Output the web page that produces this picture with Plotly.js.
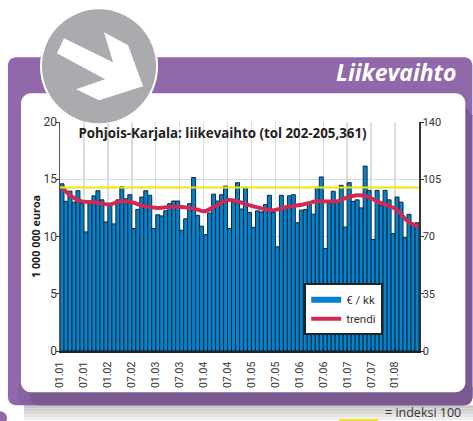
<!DOCTYPE html>
<html><head><meta charset="utf-8">
<script src="https://cdn.plot.ly/plotly-3.0.1.min.js"></script>
<style>html,body{margin:0;padding:0;background:#fff;overflow:hidden}#c{width:473px;height:421px}</style>
</head><body><div id="c"></div>
<script>
const tickLabels = ["01.01","07.01","01.02","07.02","01.03","07.03","01.04","07.04","01.05","07.05","01.06","07.06","01.07","07.07","01.08"];
const salesValues = [14.6,13.07,13.96,13.0,14.0,12.87,10.4,12.9,13.55,14.0,13.2,11.27,12.8,11.1,13.2,14.35,13.3,13.65,10.7,12.37,13.45,14.0,13.6,10.7,11.9,11.8,12.24,12.87,13.1,13.1,10.55,11.55,12.87,15.15,11.85,10.9,10.17,12.05,13.7,13.1,13.65,14.4,10.7,13.0,14.7,12.4,14.3,12.1,10.8,12.24,12.15,12.8,13.6,12.1,9.1,13.6,12.5,13.55,13.65,11.2,12.3,12.35,12.95,11.95,14.3,15.2,8.95,12.9,13.95,13.0,14.47,10.83,14.7,13.07,13.2,12.5,16.15,14.03,9.75,14.03,12.7,14.03,13.2,10.25,13.45,13.0,9.9,11.94,10.98,11.2];
const trendMonths = [0,2,5,8,12,15,18,20,24,28,32,34,35.7,38.2,41.5,44.7,46.2,49.5,52.9,56.3,60.5,63.9,68.9,72.2,76,79.7,83.9,86.4,89.3];
const trendValues = [14.33,13.6,13.07,13.0,12.8,13.1,12.95,12.7,12.5,12.6,12.5,12.35,12.2,12.6,13.2,13.0,12.8,12.5,12.3,12.58,12.8,13.07,13.07,13.5,13.55,12.96,12.35,11.42,10.83];
const indexLevel = [100,100];
const indexSpan = [0,90];

const W=473,H=421,L=60,R=418.7,T=121.7,B=350.7;
const fx=p=>(p-L)/(R-L), fy=p=>(B-p)/(B-T);
const pt=(x,y)=>fx(x).toFixed(5)+","+fy(y).toFixed(5);
const poly=(a)=>"M"+a.map(p=>pt(p[0],p[1])).join("L")+"Z";
function round(x0,y0,x1,y1,r){
  const k=r*0.45;
  return "M"+pt(x0+r,y0)+"L"+pt(x1-r,y0)+"C"+pt(x1-k,y0)+" "+pt(x1,y0+k)+" "+pt(x1,y0+r)+
   "L"+pt(x1,y1-r)+"C"+pt(x1,y1-k)+" "+pt(x1-k,y1)+" "+pt(x1-r,y1)+
   "L"+pt(x0+r,y1)+"C"+pt(x0+k,y1)+" "+pt(x0,y1-k)+" "+pt(x0,y1-r)+
   "L"+pt(x0,y0+r)+"C"+pt(x0,y0+k)+" "+pt(x0+k,y0)+" "+pt(x0+r,y0)+"Z";
}
const fill=(path,c)=>({type:"path",xref:"paper",yref:"paper",layer:"below",path,fillcolor:c,line:{width:0}});
const circ=(cx,cy,r,c)=>({type:"circle",xref:"paper",yref:"paper",layer:"below",x0:fx(cx-r),x1:fx(cx+r),y0:fy(cy+r),y1:fy(cy-r),fillcolor:c,line:{width:0}});

const shapes=[];
["#c8c8c9","#d0d0d1","#d9d9da","#e4e4e5","#eeeeef"].forEach((c,i)=>{
  shapes.push(fill(poly([[24,405+i*3],[473,405+i*3],[473,408+i*3],[24,408+i*3]]),c));
});
shapes.push(fill(round(8,57,472,405,8),"#9168aa"));
shapes.push(fill(round(18,380,472,405,8),"#8763a2"));
shapes.push(fill(round(30,380,472,405,8),"#7a5a90"));
shapes.push(fill(poly([[464,105],[472,115],[472,395],[464,395]]),"#7a5a90"));
shapes.push(fill(round(21,93,465,392,10),"#ffffff"));
shapes.push(circ(99,66,59,"#ffffff"));
shapes.push(circ(99,66,57,"#a9abae"));
shapes.push(fill(poly([[64,38],[113,62],[104,32],[128,45],[143,86],[99,100],[76,89],[105,79],[57,53]]),"#ffffff"));
shapes.push(circ(0,418,7,"#9168aa"));
shapes.push(fill(poly([[339,419],[378,419],[378,423],[339,423]]),"#f2e100"));

const font="'Open Sans',sans-serif";
const narrow="Roboto,sans-serif";
const months=salesValues.map((_,i)=>i+0.5);
const data=[
 {type:"bar",name:"€ / kk",showlegend:false,x:months,y:salesValues,marker:{color:"#0682cb",line:{color:"#0a2a40",width:1}},xaxis:"x",yaxis:"y"},
 {type:"scatter",mode:"lines",name:"index",showlegend:false,x:indexSpan,y:indexLevel,line:{color:"#f2e500",width:2},xaxis:"x",yaxis:"y2"},
 {type:"scatter",mode:"lines",name:"€ / kk",x:[null],y:[null],line:{color:"#0682cb",width:6},xaxis:"x",yaxis:"y"},
 {type:"scatter",mode:"lines",name:"trendi",x:trendMonths.map(m=>m+0.5),y:trendValues,line:{color:"#d02a52",width:4,shape:"spline",smoothing:0.8},xaxis:"x",yaxis:"y"}
];
const layout={
 width:W,height:H,margin:{l:L,r:W-R,t:T,b:H-B,pad:0},
 paper_bgcolor:"rgba(0,0,0,0)",plot_bgcolor:"rgba(0,0,0,0)",
 font:{family:narrow,size:12,color:"#333"},
 bargap:0,
 title:{text:"<b>Pohjois-Karjala: liikevaihto (tol 202-205,361)</b>",font:{family:font,size:13.3,color:"#222"},xref:"container",yref:"container",x:222.5/W,y:1-133.5/H,xanchor:"center",yanchor:"middle"},
 xaxis:{range:[0,90],tickmode:"array",tickvals:tickLabels.map((_,i)=>i*6),ticktext:tickLabels,tickangle:-90,ticks:"inside",ticklen:3,tickcolor:"#222",showgrid:true,gridcolor:"#dcdcdc",gridwidth:1.5,showline:true,linecolor:"#222",linewidth:1.5,zeroline:false,tickfont:{size:10.5,color:"#333"},ticklabelstandoff:5},
 yaxis:{range:[0,20],tickvals:[0,5,10,15,20],ticks:"outside",ticklen:3,tickcolor:"#333",showgrid:true,gridcolor:"#dcdcdc",gridwidth:1.5,showline:true,linecolor:"#555",linewidth:1.5,zeroline:false,title:{text:"<b>1 000 000 euroa</b>",font:{family:font,size:10.8,color:"#222"},standoff:1},tickfont:{size:12,color:"#333"},ticklabelstandoff:-4},
 yaxis2:{range:[0,140],tickvals:[0,35,70,105,140],overlaying:"y",side:"right",ticks:"outside",ticklen:3,tickcolor:"#333",showgrid:false,showline:true,linecolor:"#333",linewidth:1.5,zeroline:false,tickfont:{size:11,color:"#333"},ticklabelstandoff:-3},
 legend:{x:fx(304),y:fy(283),xanchor:"left",yanchor:"top",bgcolor:"#fff",bordercolor:"#222",borderwidth:2,font:{size:11.5,color:"#333"},itemwidth:30,traceorder:"normal"},
 shapes,
 annotations:[
  {xref:"paper",yref:"paper",x:fx(458.5),y:fy(72),text:"<b><i>Liikevaihto</i></b>",showarrow:false,xanchor:"right",yanchor:"middle",font:{family:font,size:23,color:"#fff"}},
  {xref:"paper",yref:"paper",x:fx(383),y:fy(412.5),text:"= indeksi 100",showarrow:false,xanchor:"left",yanchor:"middle",font:{family:font,size:12.5,color:"#333"}}
 ],
 showlegend:true
};
Plotly.newPlot("c",data,layout,{displayModeBar:false,staticPlot:true});
</script></body></html>
